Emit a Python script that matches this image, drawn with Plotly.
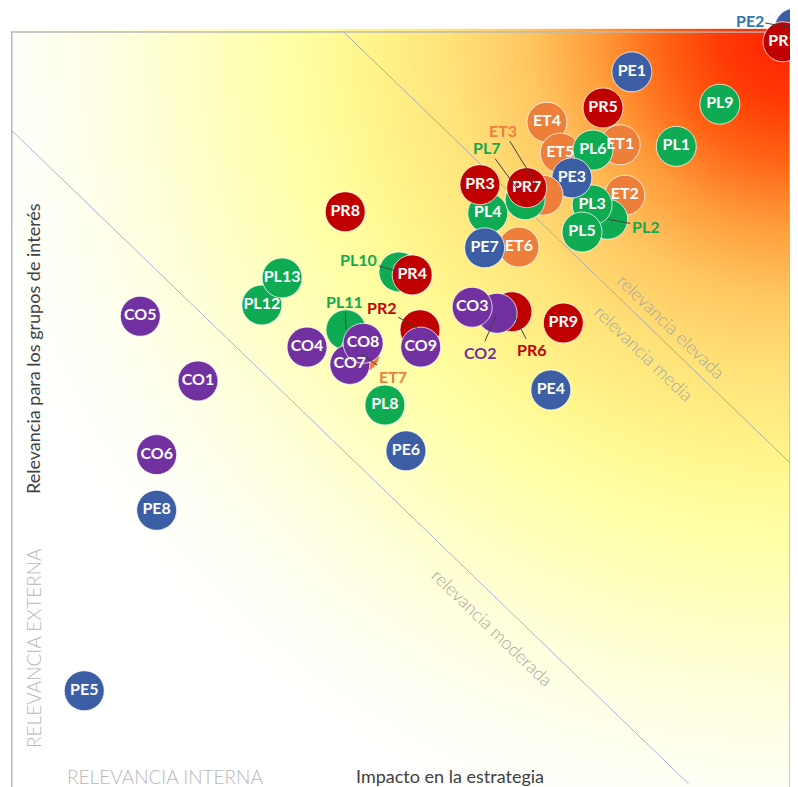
import numpy as np
import plotly.graph_objects as go

# ---------------- data (drawing order = stacking order) ----------------
codes = ["PE2", "PR1", "PE1", "PL9", "PR5", "ET4", "ET1", "ET5", "PL6", "PL1",
         "ET2", "PL2", "PL3", "PL5", "PE3", "ET3", "PL7", "PR7", "PL4", "PR3",
         "ET6", "PE7", "PR8", "PL10", "PR4", "PL12", "PL13", "PL11", "ET7", "CO4",
         "CO7", "CO8", "PR2", "CO9", "PL8", "PE6", "PR6", "CO2", "CO3", "PR9",
         "PE4", "CO5", "CO1", "CO6", "PE8", "PE5"]
impacto = [10.06, 9.91, 7.97, 9.10, 7.60, 6.88, 7.82, 7.05, 7.47, 8.54,
           7.88, 7.66, 7.46, 7.33, 7.20, 6.83, 6.60, 6.62, 6.12, 6.02,
           6.52, 6.08, 4.29, 4.98, 5.15, 3.22, 3.48, 4.30, 4.48, 3.80,
           4.35, 4.52, 5.25, 5.26, 4.80, 5.07, 6.43, 6.24, 5.92, 7.09,
           6.93, 1.66, 2.40, 1.87, 1.87, 0.94]
relevancia = [10.05, 9.87, 9.47, 9.04, 8.99, 8.80, 8.50, 8.39, 8.43, 8.48,
              7.83, 7.51, 7.70, 7.34, 8.06, 7.83, 7.77, 7.93, 7.59, 7.97,
              7.14, 7.13, 7.61, 6.81, 6.77, 6.37, 6.73, 6.04, 5.73, 5.81,
              5.58, 5.86, 6.04, 5.81, 5.04, 4.43, 6.28, 6.26, 6.34, 6.13,
              5.24, 6.22, 5.36, 4.38, 3.64, 1.24]

# thresholds of the relevance bands (impacto + relevancia = const)
umbral_moderada = 8.70
umbral_elevada = 14.27

# ---------------- style / geometry ----------------
OFF = 8                          # browser body margin
X0_PX, Y0_PX = 11, 784           # page pixel of data origin (0, 0)
SX, SY = 77.9, 75.2              # page pixels per data unit
LEFT, RIGHT, TOP, BOTTOM = 11, 797, 10, 787   # plot area in page pixels
W, H = 790, 779
ML, MR, MT, MB = LEFT - OFF, OFF + W - RIGHT, TOP - OFF, OFF + H - BOTTOM
xrange_ = [(LEFT - X0_PX) / SX, (RIGHT - X0_PX) / SX]
yrange_ = [(Y0_PX - BOTTOM) / SY, (Y0_PX - TOP) / SY]

def px_x(p):   # page pixel -> paper fraction
    return (p - LEFT) / (RIGHT - LEFT)

def px_y(p):
    return (BOTTOM - p) / (BOTTOM - TOP)

cat_colors = {"PE": "#3c5ea5", "PR": "#c00000", "PL": "#0fab52",
              "ET": "#ee7f3a", "CO": "#7131a1"}
label_colors = {"PE": "#2e75b6", "PR": "#c00000", "PL": "#0fab52",
                "ET": "#ee7f3a", "CO": "#7131a1"}
# points whose label sits outside the circle: pixel offset of label, standoff
outside = {"PE2": (-45, -8, 4), "ET3": (-40, -65, 12), "PL7": (-38, -52, 10),
           "PL2": (38, 7, 0), "PL10": (-40, -12, 4), "PL11": (-1, -28, 0),
           "PR2": (-38, -22, 2), "ET7": (33, 23, 2), "CO2": (-17, 39, 2),
           "PR6": (20, 38, 2)}
FONT = "Lato"

fig = go.Figure()

# background radial gradient (from top-right corner of the frame)
gx = np.linspace(0, 10, 121)
gy = np.linspace(yrange_[0], 10, 121)
GX, GY = np.meshgrid(gx, gy)
dist = np.sqrt(((10 - GX) * SX) ** 2 + ((10 - GY) * SY) ** 2)
zmax = 840.0
stops = [(0, "#ff1e00"), (70, "#ff3a05"), (130, "#ff6515"), (190, "#ff9a38"),
         (260, "#ffc560"), (340, "#ffe278"), (420, "#fff48a"), (500, "#ffffa5"),
         (580, "#ffffc0"), (660, "#ffffdc"), (760, "#fffff6"), (840, "#ffffff")]
fig.add_trace(go.Heatmap(x=gx, y=gy, z=dist, zmin=0, zmax=zmax, zsmooth="best",
                         colorscale=[[s / zmax, c] for s, c in stops],
                         showscale=False, hoverinfo="skip"))

# band lines
fig.add_trace(go.Scatter(x=[0, umbral_moderada], y=[umbral_moderada, 0], mode="lines",
                         line=dict(color="#aab0d8", width=1), hoverinfo="skip",
                         showlegend=False))
fig.add_trace(go.Scatter(x=[umbral_elevada - 10, 10], y=[10, umbral_elevada - 10],
                         mode="lines", line=dict(color="#a9a9a9", width=1),
                         hoverinfo="skip", showlegend=False))

# frame (left, top, right)
fig.add_trace(go.Scatter(x=[0.01, 0.01, 10, 10], y=[yrange_[0], 10, 10, yrange_[0]],
                         mode="lines", line=dict(color="#b9b9b9", width=1.5),
                         hoverinfo="skip", showlegend=False))

# circles
fig.add_trace(go.Scatter(
    x=impacto, y=relevancia, mode="markers",
    marker=dict(size=40, color=[cat_colors[c[:2]] for c in codes],
                line=dict(color="rgba(255,255,255,0.75)", width=1)),
    cliponaxis=False, hoverinfo="skip", showlegend=False))

# labels inside circles (drawn above all circles)
fig.add_trace(go.Scatter(
    x=impacto, y=relevancia, mode="text",
    text=["" if c in outside else c for c in codes],
    textposition="middle center",
    textfont=dict(family=FONT, size=16, color="white", weight="bold"),
    cliponaxis=False, hoverinfo="skip", showlegend=False))

annotations = []
for code, xv, yv in zip(codes, impacto, relevancia):
    if code in outside:
        ax, ay, so = outside[code]
        annotations.append(dict(
            x=xv, y=yv, xref="x", yref="y", ax=ax, ay=ay, text=code,
            showarrow=True, arrowhead=0, arrowwidth=1, arrowcolor="#404040",
            standoff=so,
            font=dict(family=FONT, size=16, color=label_colors[code[:2]],
                      weight="bold")))

grey_light = dict(family=FONT, size=18, color="#a6a6a6", weight=300)
caps_light = dict(family=FONT, size=19, color="#b8b8b8", weight=300)
dark = dict(family=FONT, size=18, color="#404040")
texts = [
    ("relevancia elevada", 671, 326, 44, grey_light),
    ("relevancia media", 644, 353, 44, grey_light),
    ("relevancia moderada", 492, 627, 44, grey_light),
    ("Impacto en la estrategia", 450, 776, 0, dark),
    ("RELEVANCIA INTERNA", 165, 776, 0, caps_light),
    ("RELEVANCIA EXTERNA", 33, 648, -90, caps_light),
    ("Relevancia para los grupos de interés", 33, 349, -90, dark),
]
for t, xp, yp, ang, f in texts:
    annotations.append(dict(x=px_x(xp), y=px_y(yp), xref="paper", yref="paper",
                            xanchor="center", yanchor="middle", text=t,
                            textangle=ang, showarrow=False, font=f))

fig.update_layout(
    width=W, height=H, margin=dict(l=ML, r=MR, t=MT, b=MB),
    paper_bgcolor="white", plot_bgcolor="white",
    xaxis=dict(range=xrange_, showgrid=False, zeroline=False, showticklabels=False,
               showline=False, fixedrange=True),
    yaxis=dict(range=yrange_, showgrid=False, zeroline=False, showticklabels=False,
               showline=False, fixedrange=True),
    annotations=annotations, showlegend=False,
)

fig.write_html("out.html")
